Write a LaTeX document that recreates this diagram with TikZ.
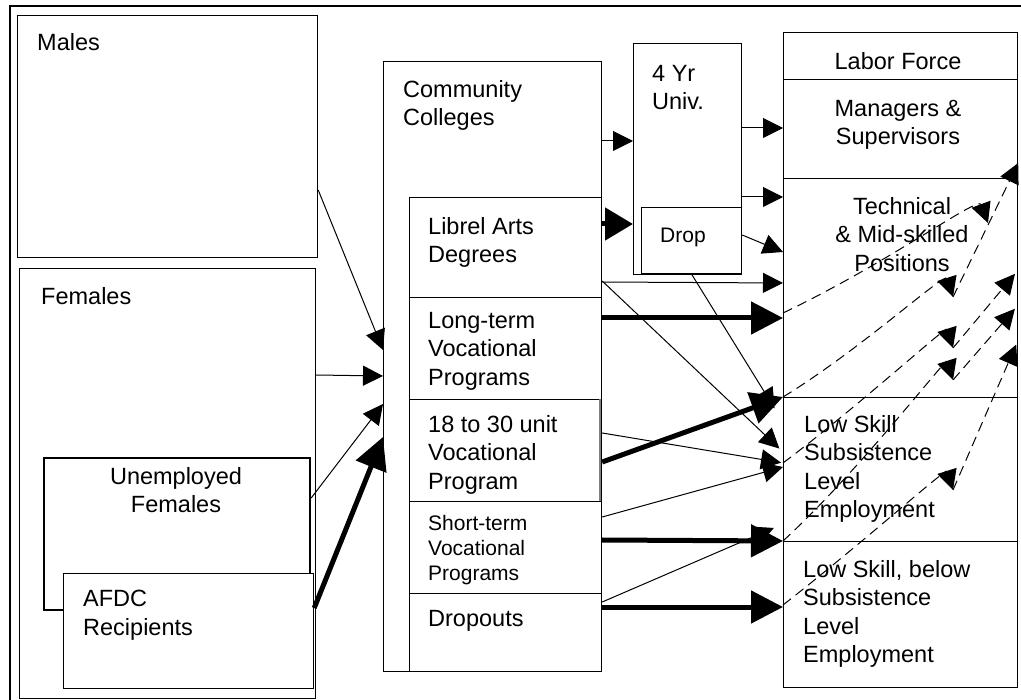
\documentclass[tikz,border=0pt]{standalone}
\usepackage{fontspec}
\setmainfont{Liberation Sans}
\usetikzlibrary{arrows.meta}

\begin{document}
\begin{tikzpicture}[x=1pt,y=-1pt,>={Triangle[length=20pt,width=20pt]},line join=miter,
  box/.style={draw,line width=1.2pt,fill=white,inner sep=0pt,anchor=north west},
  txt/.style={inner sep=0pt,anchor=north west,align=left,font=\fontsize{23.5}{28.5}\selectfont},
  smalltxt/.style={txt,font=\fontsize{21}{25}\selectfont},
  feed/.style={->,line width=1pt},
  heavy/.style={line width=5pt,-{Triangle[length=32pt,width=32pt]}},
  mobility/.style={line width=1pt,dash pattern=on 10pt off 6pt,-{Triangle[length=20pt,width=20pt]}}]
\useasboundingbox (0,0) rectangle (1021,700);
%%
\draw[line width=1.2pt] (10,700) -- (10,6) -- (1021,6);
  % Node: Males
  \node[box,minimum width=300pt,minimum height=242pt] (males) at (17,15) {};
  \node[txt] (malesLabel) at (37,33) {Males};
  % Node: Females
  \node[box,minimum width=296pt,minimum height=430pt] (females) at (19,268) {};
  \node[txt] (femalesLabel) at (41,287) {Females};
  % Node: Unemployed
  \node[box,line width=2.2pt,minimum width=266pt,minimum height=152pt] (unemployed) at (43,457) {};
  \node[txt,anchor=north,align=center] (unemployedLabel) at (176,467) {Unemployed\\Females};
  % Node: AFDC
  \node[box,minimum width=250pt,minimum height=115pt] (afdc) at (63,573) {};
  \node[txt] (afdcLabel) at (83,590) {AFDC\\Recipients};
  % Node: Colleges
  \node[box,minimum width=218pt,minimum height=610pt] (colleges) at (383,61) {};
  \node[txt] (collegesLabel) at (403,80) {Community\\Colleges};
  \node[box,minimum width=192pt,minimum height=100pt] (libarts) at (409,197) {};
  \node[txt] (libartsLabel) at (428,217) {Librel Arts\\Degrees};
  \node[box,minimum width=192pt,minimum height=102pt] (longterm) at (409,297) {};
  \node[txt] (longtermLabel) at (428,312) {Long-term\\Vocational\\Programs};
  \node[box,minimum width=192pt,minimum height=102pt] (unit) at (409,399) {};
  \draw[gray,line width=2pt] ([xshift=-2pt]unit.north east) -- ([xshift=-2pt]unit.south east);
  \node[txt] (unitLabel) at (428,415) {18 to 30 unit\\Vocational\\Program};
  \node[box,minimum width=192pt,minimum height=92pt] (shortterm) at (409,501) {};
  \node[smalltxt] (shorttermLabel) at (428,515) {Short-term\\Vocational\\Programs};
  \node[box,minimum width=192pt,minimum height=78pt] (dropouts) at (409,593) {};
  \node[txt] (dropoutsLabel) at (428,610) {Dropouts};
  % Node: Univ
  \node[box,minimum width=108pt,minimum height=231pt] (univ) at (633,43) {};
  \node[txt] (univLabel) at (652,65) {4 Yr\\Univ.};
  \node[box,minimum width=100pt,minimum height=66pt] (drop) at (641,207) {};
  \node[smalltxt] (dropLabel) at (660,228) {Drop};
  % Node: Labor Force
  \node[box,minimum width=234pt,minimum height=47pt] (labor) at (783,32) {};
  \node[txt,anchor=north,align=center] (laborLabel) at (898,52) {Labor Force};
  \node[box,minimum width=234pt,minimum height=99pt] (managers) at (783,79) {};
  \node[txt,anchor=north,align=center] (managersLabel) at (898,100) {Managers \&\\Supervisors};
  \node[box,minimum width=234pt,minimum height=219pt] (technical) at (783,178) {};
  \node[txt,anchor=north,align=center] (technicalLabel) at (902,197) {Technical\\\& Mid-skilled\\Positions};
  \node[box,minimum width=234pt,minimum height=144pt] (lowskill) at (783,397) {};
  \node[txt] (lowskillLabel) at (804,415) {Low Skill\\Subsistence\\Level\\Employment};
  \node[box,minimum width=234pt,minimum height=146pt] (below) at (783,541) {};
  \node[txt] (belowLabel) at (803,560) {Low Skill, below\\Subsistence\\Level\\Employment};
%
  % Edge: Males -> Colleges
  \draw[feed] (males.east |- 0,190) -- (colleges.west |- 0,350);
  % Edge: Females -> Colleges
  \draw[feed] (females.east |- 0,375) -- (colleges.west |- 0,376);
  % Edge: Unemployed -> Colleges
  \draw[feed] (unemployed.east |- 0,498) -- (colleges.west |- 0,404);
  % Edge: AFDC -> Colleges
  \draw[heavy] (afdc.east |- 0,608) -- (colleges.west |- 0,437);
  % Edge: Colleges -> Univ
  \draw[feed] (colleges.east |- 0,141) -- (univ.west |- 0,141);
  \draw[line width=5pt,-{Triangle[length=28pt,width=32pt]}] (libarts.east |- 0,224) -- (univ.west |- 0,224);
  % Edge: Univ -> Labor Force
  \draw[feed] (univ.east |- 0,128) -- (managers.west |- 0,128);
  \draw[feed] (univ.east |- 0,197) -- (technical.west |- 0,197);
  \draw[feed] (drop.east |- 0,235) -- (technical.west |- 0,252);
  \draw[feed,shorten >=16pt] (drop.south) -- (lowskill.west |- 0,422);
  % Edge: Programs -> Labor Force
  \draw[feed] (libarts.east |- 0,282) -- (technical.west |- 0,283);
  \draw[feed,shorten >=5pt] (libarts.east |- 0,281) -- (lowskill.west |- 0,452);
  \draw[heavy] (longterm.east |- 0,318) -- (technical.west |- 0,318);
  \draw[heavy] (unit.east |- 0,462) -- (lowskill.north west);
  \draw[feed,shorten >=2pt] (unit.east |- 0,433) -- (lowskill.west |- 0,463);
  \draw[feed] (shortterm.east |- 0,517) -- (lowskill.west |- 0,467);
  \draw[heavy] (shortterm.east |- 0,540) -- (below.north west);
  \draw[feed,shorten >=10pt] (dropouts.east |- 0,602) -- (lowskill.west |- 0,524);
  \draw[heavy] (dropouts.east |- 0,607) -- (below.west |- 0,607);
  % Edge: mobility inside Labor Force
  \coordinate (techTurn) at (988,223);
  \coordinate (lowTurn) at (953,297);
  \coordinate (midTurnA) at (953,348);
  \coordinate (midTurnB) at (953,380);
  \coordinate (subTurn) at (953,490);
  \draw[mobility] (technical.west |- 0,313) .. controls (890,262) and (978,196) .. (techTurn);
  \draw[mobility] (lowskill.north west) .. controls (860,350) and (945,272) .. (lowTurn);
  \draw[mobility] (lowTurn) -- (managers.south east |- 0,163);
  \draw[mobility] (lowskill.west |- 0,463) .. controls (860,405) and (946,326) .. (midTurnA);
  \draw[mobility,shorten >=5pt] (midTurnA) -- (technical.east |- 0,270);
  \draw[mobility] (below.north west) .. controls (860,470) and (946,358) .. (midTurnB);
  \draw[mobility,shorten >=5pt] (midTurnB) -- (technical.east |- 0,305);
  \draw[mobility] (below.west |- 0,605) .. controls (860,545) and (946,468) .. (subTurn);
  \draw[mobility,shorten >=5pt] (subTurn) -- (technical.east |- 0,340);
%
\end{tikzpicture}
\end{document}
